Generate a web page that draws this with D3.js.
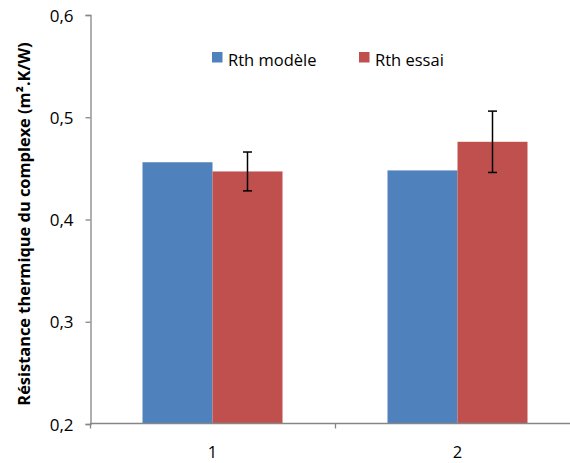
<!DOCTYPE html>
<html>
<head>
<meta charset="utf-8">
<script src="https://cdn.jsdelivr.net/npm/d3@7"></script>
<style>
html,body{margin:0;padding:0;background:#fff;}
svg{display:block;font-family:"Open Sans",sans-serif;}
</style>
</head>
<body>
<svg id="chart" width="570" height="463"></svg>
<script>
const categories = ["1", "2"];
const seriesNames = ["Rth modèle", "Rth essai"];
const modeleValues = [0.456, 0.448];
const essaiValues = [0.447, 0.476];
const essaiErrors = [0.019, 0.030];
const yTicks = [0.2, 0.3, 0.4, 0.5, 0.6];
const colors = ["#4F81BD", "#C0504D"];
const yTitle = "Résistance thermique du complexe (m².K/W)";

const svg = d3.select("#chart");
const axisColor = "#868686";

const y = d3.scaleLinear().domain([0.2, 0.6]).range([424, 15]);
const x0 = d3.scaleBand().domain(categories).range([90, 580]).paddingInner(0).paddingOuter(0);
const x1 = d3.scaleBand().domain(seriesNames).range([0, x0.bandwidth()]).paddingInner(0).paddingOuter(0.75);
const color = d3.scaleOrdinal().domain(seriesNames).range(colors);

const data = categories.map((c, i) => ({
  cat: c,
  values: [
    {name: seriesNames[0], v: modeleValues[i], err: null},
    {name: seriesNames[1], v: essaiValues[i], err: essaiErrors[i]}
  ]
}));

// bars
const g = svg.append("g");
const groups = g.selectAll("g.grp").data(data).join("g")
  .attr("class", "grp")
  .attr("transform", d => `translate(${x0(d.cat)},0)`);
groups.selectAll("rect").data(d => d.values).join("rect")
  .attr("x", d => x1(d.name))
  .attr("width", x1.bandwidth())
  .attr("y", d => y(d.v))
  .attr("height", d => y(0.2) - y(d.v))
  .attr("fill", d => color(d.name));

// error bars
const eb = groups.selectAll("g.err").data(d => d.values.filter(v => v.err != null)).join("g").attr("class", "err");
eb.append("line")
  .attr("x1", d => x1(d.name) + x1.bandwidth() / 2)
  .attr("x2", d => x1(d.name) + x1.bandwidth() / 2)
  .attr("y1", d => y(d.v + d.err))
  .attr("y2", d => y(d.v - d.err))
  .attr("stroke", "#000").attr("stroke-width", 1.5);
[1, -1].forEach(s => {
  eb.append("line")
    .attr("x1", d => x1(d.name) + x1.bandwidth() / 2 - 4.5)
    .attr("x2", d => x1(d.name) + x1.bandwidth() / 2 + 4.5)
    .attr("y1", d => y(d.v + s * d.err))
    .attr("y2", d => y(d.v + s * d.err))
    .attr("stroke", "#000").attr("stroke-width", 1.5);
});

// y axis
const yAxis = svg.append("g")
  .attr("transform", "translate(90.5,0)")
  .call(d3.axisLeft(y).tickValues(yTicks).tickSize(5).tickPadding(12)
    .tickFormat(d => d3.format(".1f")(d).replace(".", ",")));
yAxis.select(".domain").attr("stroke", axisColor).attr("stroke-width", 1.3);
yAxis.selectAll(".tick line").attr("stroke", axisColor).attr("stroke-width", 1.3);
yAxis.selectAll(".tick text").attr("font-size", 17).attr("fill", "#000")
  .attr("font-family", "'Open Sans', sans-serif").attr("dy", "0.36em");

// x axis
const xAxis = svg.append("g").attr("transform", "translate(0,423.5)");
xAxis.append("line")
  .attr("x1", x0.range()[0]).attr("x2", x0.range()[1])
  .attr("stroke", axisColor).attr("stroke-width", 1.3);
xAxis.selectAll("line.tk").data(categories).join("line").attr("class", "tk")
  .attr("x1", d => x0(d) + 0.5).attr("x2", d => x0(d) + 0.5)
  .attr("y1", 0).attr("y2", 5)
  .attr("stroke", axisColor).attr("stroke-width", 1.3);
xAxis.selectAll("text").data(categories).join("text")
  .attr("x", d => x0(d) + x0.bandwidth() / 2)
  .attr("y", 34)
  .attr("text-anchor", "middle")
  .attr("font-size", 16.5)
  .text(d => d);

// y title
svg.append("text")
  .attr("transform", "translate(30,224) rotate(-90)")
  .attr("text-anchor", "middle")
  .attr("font-size", 16.4)
  .attr("font-weight", "bold")
  .text(yTitle);

// legend
const legendX = [212, 359];
const leg = svg.append("g").selectAll("g").data(seriesNames).join("g")
  .attr("transform", (d, i) => `translate(${legendX[i]},52)`);
leg.append("rect").attr("width", 10.5).attr("height", 10.5).attr("fill", d => color(d));
leg.append("text").attr("x", 16).attr("y", 13.5).attr("font-size", 16.5).text(d => d);
</script>
</body>
</html>
